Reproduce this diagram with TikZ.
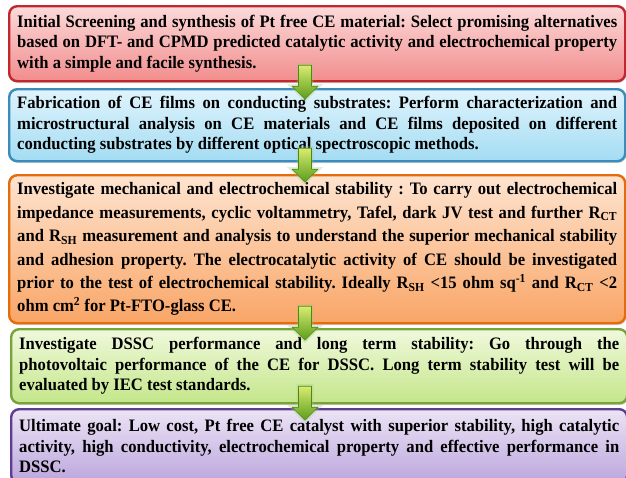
\documentclass[tikz,border=0pt]{standalone}
\usepackage{fontspec}
\setmainfont{Liberation Serif}[FakeStretch=0.95]
\usetikzlibrary{calc, shadows}
\definecolor{stepRed}{HTML}{C0282D}
\definecolor{stepRedTop}{HTML}{FCDADA}
\definecolor{stepRedSoft}{HTML}{F28C8C}
\definecolor{stepBlue}{HTML}{3A8CBA}
\definecolor{stepBlueTop}{HTML}{E0F4FC}
\definecolor{stepBlueSoft}{HTML}{A3DCF3}
\definecolor{stepOrange}{HTML}{E46C0A}
\definecolor{stepOrangeTop}{HTML}{FEE4D0}
\definecolor{stepOrangeSoft}{HTML}{F9A566}
\definecolor{stepGreen}{HTML}{76A33A}
\definecolor{stepGreenTop}{HTML}{F0F9DC}
\definecolor{stepGreenSoft}{HTML}{C4E68A}
\definecolor{stepPurple}{HTML}{5F3C92}
\definecolor{stepPurpleTop}{HTML}{ECE4F5}
\definecolor{stepPurpleSoft}{HTML}{BBA5DD}
\definecolor{arrowGreen}{HTML}{4E8A12}
\definecolor{arrowLight}{HTML}{D8EC70}
\definecolor{arrowDark}{HTML}{5C9C1C}
\frenchspacing

\begin{document}
\begin{tikzpicture}[x=1pt, y=-1pt,
    flowBox/.style={rectangle, rounded corners=8pt, line width=2.4pt, anchor=north west, text width=600pt, inner xsep=8pt, align=justify, font=\fontsize{17.5}{20.5}\selectfont\bfseries, drop shadow={shadow xshift=1.2pt, shadow yshift=-1.8pt, opacity=0.35}},
    screenBox/.style={flowBox, draw=stepRed, top color=stepRedTop, bottom color=stepRedSoft, minimum height=75pt},
    fabBox/.style={flowBox, draw=stepBlue, top color=stepBlueTop, bottom color=stepBlueSoft, minimum height=72pt},
    mechBox/.style={flowBox, draw=stepOrange, top color=stepOrangeTop, bottom color=stepOrangeSoft, minimum height=148pt, font=\fontsize{17.5}{23.4}\selectfont\bfseries},
    dsscBox/.style={flowBox, draw=stepGreen, top color=stepGreenTop, bottom color=stepGreenSoft, minimum height=74pt},
    goalBox/.style={flowBox, draw=stepPurple, top color=stepPurpleTop, bottom color=stepPurpleSoft, minimum height=74pt},
    flowArrow/.style={draw=arrowGreen, line width=0.6pt, top color=arrowLight, bottom color=arrowDark, line join=round, preaction={draw=arrowGreen!50, line width=4pt, opacity=0.3}},
]
\useasboundingbox (0,0) rectangle (626,477);
\node[screenBox] (screen) at (8,5) {Initial Screening and synthesis of Pt free CE material: Select promising alternatives\linebreak
    based on DFT- and CPMD predicted catalytic activity and electrochemical property\linebreak
    with a simple and facile synthesis.};
\node[fabBox] (fab) at (8,88) {Fabrication of CE films on conducting substrates: Perform characterization and\linebreak
    microstructural analysis on CE materials and CE films deposited on different\linebreak
    conducting substrates by different optical spectroscopic methods.};
\node[mechBox] (mech) at (8,174) {Investigate mechanical and electrochemical stability : To carry out electrochemical\linebreak
    impedance measurements, cyclic voltammetry, Tafel, dark JV test and further R\textsubscript{CT}\linebreak
    and R\textsubscript{SH} measurement and analysis to understand the superior mechanical stability\linebreak
    and adhesion property. The electrocatalytic activity of CE should be investigated\linebreak
    prior to the test of electrochemical stability. Ideally R\textsubscript{SH} <15 ohm sq\textsuperscript{-1} and R\textsubscript{CT} <2\linebreak
    ohm cm\textsuperscript{2} for Pt-FTO-glass CE.};
\node[dsscBox] (dssc) at (10,328) {Investigate DSSC performance and long term stability: Go through the\linebreak
    photovoltaic performance of the CE for DSSC. Long term stability test will be\linebreak
    evaluated by IEC test standards.};
\node[goalBox] (goal) at (10,408) {Ultimate goal: Low cost, Pt free CE catalyst with superior stability, high catalytic\linebreak
    activity, high conductivity, electrochemical property and effective performance in\linebreak
    DSSC.};
% block arrows between the steps
\coordinate (ax) at (305,0);
\foreach \u/\v in {screen/fab, fab/mech, mech/dssc, dssc/goal}{
    \path let \p1=($(\u.south)!0.5!(\v.north)$), \p2=(ax) in (\x2,\y1) coordinate (m);
    \shadedraw[flowArrow, shift={(m)}] (-6.5,-20) -- (6.5,-20) -- (6.5,1) -- (13,1) -- (0,14) -- (-13,1) -- (-6.5,1) -- cycle;
}
\end{tikzpicture}
\end{document}
